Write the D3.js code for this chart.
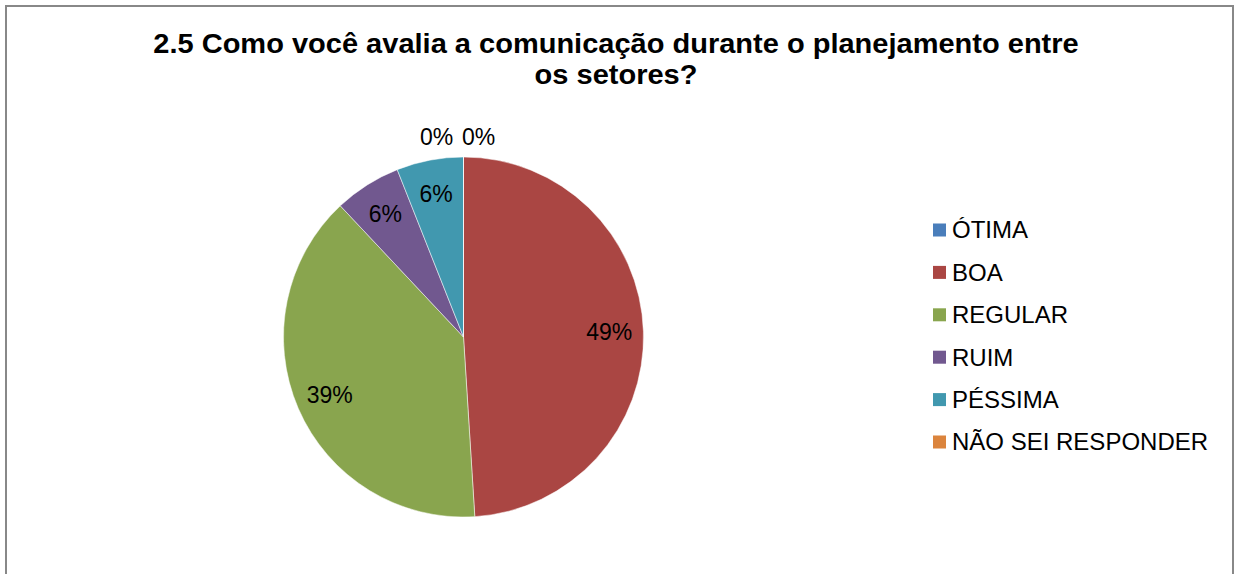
<!DOCTYPE html>
<html>
<head>
<meta charset="utf-8">
<script src="https://cdn.jsdelivr.net/npm/d3@7"></script>
<style>
    html, body { margin: 0; padding: 0; background: #fff; }
    text { font-family: "Liberation Sans", Arial, sans-serif; }
</style>
</head>
<body>
<div id="chart"></div>
<script>
// dados do gráfico
const categories = ['ÓTIMA', 'BOA', 'REGULAR', 'RUIM', 'PÉSSIMA', 'NÃO SEI RESPONDER'];
const values = [0, 49, 39, 6, 6, 0];
const colors = ['#4A7EBB', '#AA4643', '#89A54E', '#71588F', '#4198AF', '#DB843D'];
const titleLines = ['2.5 Como você avalia a comunicação durante o planejamento entre', 'os setores?'];

const width = 1237;
const height = 574;

const svg = d3.select('#chart')
    .append('svg')
    .attr('width', width)
    .attr('height', height);

// borda da área do gráfico
svg.append('rect')
    .attr('x', 6)
    .attr('y', 6)
    .attr('width', 1227)
    .attr('height', 600)
    .attr('fill', 'none')
    .attr('stroke', '#888')
    .attr('stroke-width', 2);

// título (um pouco esticado na horizontal, como no original)
svg.append('g')
    .attr('transform', 'translate(616,0) scale(1.075,1)')
    .append('text')
    .attr('text-anchor', 'middle')
    .style('font-size', '27px')
    .style('font-weight', 'bold')
    .selectAll('tspan')
    .data(titleLines)
    .join('tspan')
    .attr('x', 0)
    .attr('y', (d, i) => 53 + i * 31)
    .text(d => d);

// pizza
const cx = 463.5, cy = 337, radius = 180;
const total = d3.sum(values);

const pie = d3.pie()
    .value(d => d)
    .sort(null);

const arcs = pie(values);

const arc = d3.arc()
    .innerRadius(0)
    .outerRadius(radius);

const labelArc = d3.arc()
    .innerRadius(radius * 0.81)
    .outerRadius(radius * 0.81);

const g = svg.append('g')
    .attr('transform', `translate(${cx},${cy})`);

g.selectAll('path')
    .data(arcs)
    .join('path')
    .attr('d', arc)
    .attr('fill', (d, i) => colors[i])
    .attr('stroke', '#fff')
    .attr('stroke-width', 0.5);

const fmt = v => Math.round(v / total * 100) + '%';

// rótulos dentro das fatias
g.selectAll('text.inner')
    .data(arcs.filter(d => d.value > 0))
    .join('text')
    .attr('class', 'inner')
    .attr('transform', d => {
        const [x, y] = labelArc.centroid(d);
        return `translate(${x},${y})`;
    })
    .attr('text-anchor', 'middle')
    .attr('dy', '0.35em')
    .style('font-size', '23px')
    .attr('fill', '#000')
    .text(d => fmt(d.value));

// rótulos das fatias vazias, acima do topo
const zeros = arcs.filter(d => d.value === 0);
g.selectAll('text.zero')
    .data(zeros)
    .join('text')
    .attr('class', 'zero')
    .attr('x', (d, i) => (i - (zeros.length - 1) / 2) * 42 - 6)
    .attr('y', -radius - 20)
    .attr('dy', '0.35em')
    .attr('text-anchor', 'middle')
    .style('font-size', '23px')
    .text(d => fmt(d.value));

// legenda
const legend = svg.append('g')
    .attr('transform', 'translate(933,230)');

const rows = legend.selectAll('g')
    .data(categories)
    .join('g')
    .attr('transform', (d, i) => `translate(0,${i * 42.4})`);

rows.append('rect')
    .attr('x', 0)
    .attr('y', -6.5)
    .attr('width', 13)
    .attr('height', 13)
    .attr('fill', (d, i) => colors[i]);

rows.append('text')
    .attr('x', 19)
    .attr('dy', '0.35em')
    .style('font-size', '24px')
    .text(d => d);
</script>
</body>
</html>
